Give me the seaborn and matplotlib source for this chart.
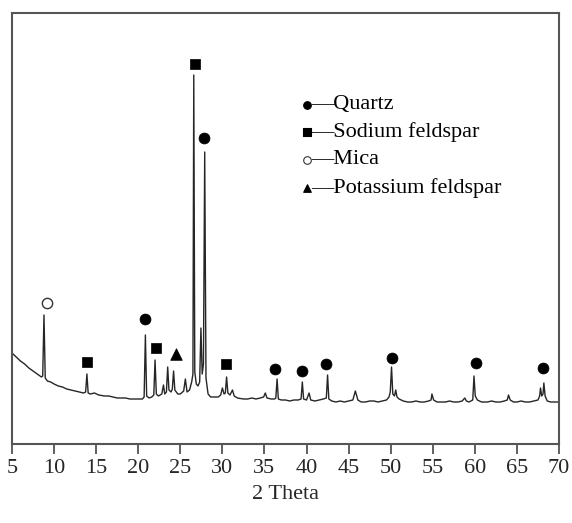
import matplotlib
matplotlib.use("Agg")
import matplotlib.pyplot as plt
import seaborn as sns
import pandas as pd

# ---- data (2θ in degrees, intensity in a.u.) ----
two_theta = [5.0, 5.5, 6.0, 6.5, 7.0, 7.5, 8.0, 8.5, 8.65, 8.8, 8.95, 9.2, 9.6, 10.0, 10.5,
             11.0, 11.5, 12.0, 12.5, 13.0, 13.5, 13.75, 13.9, 14.05, 14.3, 14.8, 15.3, 16.0,
             16.5, 17.0, 17.5, 18.0, 18.5, 19.0, 19.5, 20.0, 20.5, 20.7, 20.85, 21.0, 21.3,
             21.6, 21.85, 22.0, 22.15, 22.4, 22.8, 23.0, 23.15, 23.35, 23.5, 23.65, 23.9,
             24.05, 24.2, 24.35, 24.7, 25.0, 25.4, 25.6, 25.8, 26.1, 26.35, 26.5, 26.6, 26.72,
             26.9, 27.1, 27.3, 27.45, 27.6, 27.75, 27.9, 28.05, 28.3, 28.6, 29.0, 29.5, 29.8,
             30.0, 30.2, 30.35, 30.5, 30.65, 30.9, 31.2, 31.4, 31.8, 32.5, 33.0, 33.5, 34.0,
             34.5, 34.9, 35.1, 35.3, 35.8, 36.2, 36.35, 36.5, 36.65, 37.0, 37.5, 38.0, 38.5,
             39.0, 39.35, 39.5, 39.65, 40.0, 40.3, 40.5, 41.0, 41.5, 42.0, 42.35, 42.5, 42.65,
             43.0, 43.5, 44.0, 44.5, 45.0, 45.5, 45.8, 46.1, 46.5, 47.0, 47.5, 48.0, 48.5,
             49.0, 49.5, 49.8, 49.95, 50.1, 50.25, 50.45, 50.6, 50.75, 51.0, 51.5, 52.0, 52.5,
             53.0, 53.5, 54.0, 54.5, 54.8, 54.9, 55.1, 55.5, 56.0, 56.5, 57.0, 57.5, 58.0,
             58.5, 58.8, 59.0, 59.3, 59.75, 59.9, 60.05, 60.3, 60.8, 61.5, 62.0, 62.5, 63.0,
             63.5, 63.85, 64.0, 64.2, 64.6, 65.0, 65.5, 66.0, 66.5, 67.0, 67.5, 67.7, 67.8,
             67.95, 68.1, 68.2, 68.35, 68.6, 69.0, 69.5, 70.0]
intensity = [91, 87, 83, 80, 76, 73, 70, 67, 68, 129, 66, 63, 62, 60, 58,
             57, 55, 54, 53, 52, 51, 52, 70, 51, 50, 51, 49, 48,
             48, 47, 46, 46, 46, 45, 45, 45, 45, 47, 109, 48, 46,
             47, 49, 84, 50, 48, 50, 59, 50, 52, 77, 54, 52,
             55, 73, 54, 50, 50, 53, 65, 52, 54, 62, 70, 369, 72,
             60, 58, 62, 116, 70, 80, 292, 66, 50, 47, 47, 47, 49,
             56, 50, 51, 67, 51, 49, 54, 48, 46, 45, 45, 46, 45,
             46, 47, 51, 46, 45, 45, 46, 65, 45, 44, 44, 43, 44,
             44, 45, 62, 45, 44, 51, 44, 43, 44, 45, 46, 69, 45,
             43, 42, 43, 42, 43, 44, 53, 44, 42, 42, 43, 43, 42,
             43, 44, 47, 52, 77, 50, 48, 54, 47, 45, 43, 42, 42,
             43, 42, 42, 43, 44, 50, 44, 42, 42, 42, 43, 42, 42,
             43, 46, 43, 42, 44, 68, 48, 44, 42, 42, 43, 42, 42,
             43, 44, 49, 44, 42, 42, 43, 42, 42, 43, 44, 48, 56,
             48, 50, 61, 48, 43, 42, 42, 42]

# phase markers (2θ, intensity of the symbol)
quartz_x = [20.8, 27.8, 36.25, 39.5, 42.3, 50.2, 60.1, 68.1]
quartz_y = [125, 306, 75, 73, 80, 86, 81, 76]
sodium_x = [13.9, 22.1, 26.75, 30.4]
sodium_y = [82, 96, 380, 80]
mica_x = [9.16]
mica_y = [141]
potassium_x = [24.5]
potassium_y = [90]

legend_labels = ["—Quartz", "—Sodium feldspar", "—Mica", "—Potassium feldspar"]
xticks = list(range(5, 75, 5))

# ---- style ----
sns.set_style("ticks")
plt.rcParams["font.family"] = ["Liberation Serif", "DejaVu Serif"]
plt.rcParams["font.size"] = 16

fig = plt.figure(figsize=(5.72, 5.23), dpi=100)
ax = fig.add_axes([12 / 572, 79 / 523, 547 / 572, 431 / 523])

df = pd.DataFrame({"two_theta": two_theta, "intensity": intensity})
sns.lineplot(data=df, x="two_theta", y="intensity", ax=ax, color="#262626",
             linewidth=1.0, estimator=None, sort=False)

sns.scatterplot(x=quartz_x, y=quartz_y, ax=ax, marker="o", s=62, color="black",
                edgecolor="black", linewidth=0.5, zorder=3)
sns.scatterplot(x=sodium_x, y=sodium_y, ax=ax, marker="s", s=52, color="black",
                edgecolor="black", linewidth=0.5, zorder=3)
sns.scatterplot(x=mica_x, y=mica_y, ax=ax, marker="o", s=55, color="white",
                edgecolor="#333333", linewidth=1.0, zorder=3)
sns.scatterplot(x=potassium_x, y=potassium_y, ax=ax, marker="^", s=70, color="black",
                edgecolor="black", linewidth=0.5, zorder=3)

# legend drawn as markers + text in axes coordinates
leg_markers = [("o", "black", "black"), ("s", "black", "black"),
               ("o", "white", "#333333"), ("^", "black", "black")]
leg_y = [0.787, 0.724, 0.659, 0.594]
for (mk, fc, ec), yy, lab in zip(leg_markers, leg_y, legend_labels):
    ax.scatter([0.539], [yy], transform=ax.transAxes, marker=mk, s=30,
               facecolor=fc, edgecolor=ec, linewidth=0.8, zorder=4, clip_on=False)
    ax.text(0.546, yy, lab, transform=ax.transAxes, ha="left", va="center",
            fontsize=16, color="black")

ax.set_xlim(5, 70)
ax.set_ylim(0, 431)
ax.set_xticks(xticks)
ax.set_xticklabels([str(t) for t in xticks])
ax.set_yticks([])
ax.set_xlabel("2 Theta", fontsize=16, labelpad=5)
ax.set_ylabel("")
ax.tick_params(axis="x", direction="out", length=7, width=1.2, color="#444444",
               labelsize=16, pad=4)
for sp in ax.spines.values():
    sp.set_visible(True)
    sp.set_color("#555555")
    sp.set_linewidth(1.5)

fig.savefig("out.png", dpi=100)
